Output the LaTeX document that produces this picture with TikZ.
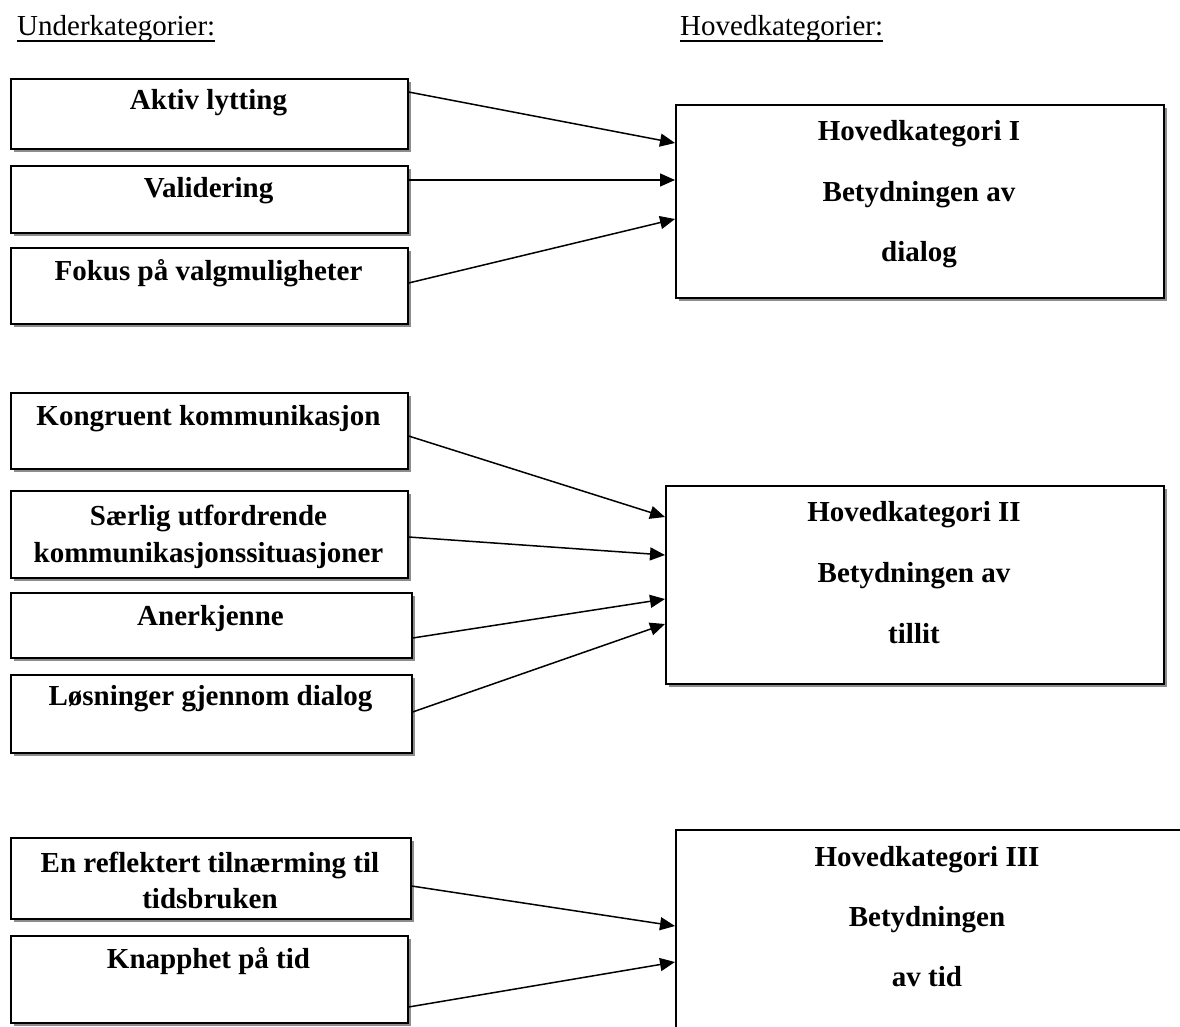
\documentclass[tikz,border=0pt]{standalone}
\usepackage{fontspec}
\setmainfont{Liberation Serif}
\usetikzlibrary{arrows.meta,shadows,calc}
\tikzset{
  box/.style={draw=black, line width=1.6pt, fill=white, inner sep=0pt, anchor=north west,
    drop shadow={shadow xshift=3pt, shadow yshift=-3pt, fill=black!45, opacity=1}},
  lbl/.style={anchor=base, inner sep=0pt, font=\fontsize{29}{35}\selectfont\bfseries},
  head/.style={anchor=base west, inner sep=0pt, font=\fontsize{29}{35}\selectfont},
  uline/.style={line width=1.4pt},
  conn/.style={line width=1.5pt, -{Triangle[length=15pt,width=13pt]}},
}
\begin{document}
\begin{tikzpicture}[x=1pt,y=-1pt]
\useasboundingbox (0,0) rectangle (1180,1027);
\clip (0,0) rectangle (1180,1027);
\fill[white] (0,0) rectangle (1180,1027);

% headings
\node[head] (hu) at (17,36) {Underkategorier:};
\draw[uline] ($(hu.base west)+(0,5)$) -- ($(hu.base east)+(0,5)$);
\node[head] (hh) at (680,36) {Hovedkategorier:};
\draw[uline] ($(hh.base west)+(0,5)$) -- ($(hh.base east)+(0,5)$);

% ---- section I
\node[box, minimum width=397pt, minimum height=70pt] (a1) at (10,78) {};
\node[lbl] (a1t) at (208.5,110) {Aktiv lytting};
\node[box, minimum width=397pt, minimum height=67pt] (a2) at (10,165) {};
\node[lbl] (a2t) at (208.5,198) {Validering};
\node[box, minimum width=397pt, minimum height=76pt] (a3) at (10,247) {};
\node[lbl] (a3t) at (208.5,280) {Fokus på valgmuligheter};

\node[box, minimum width=488pt, minimum height=193pt] (m1) at (675,104) {};
\node[lbl] (m1a) at (919,141) {Hovedkategori I};
\node[lbl] (m1b) at (919,201) {Betydningen av};
\node[lbl] (m1c) at (919,261) {dialog};

\draw[conn] ($(a1.north east)+(0,14)$) -- ($(m1.north west)+(0,39)$);
\draw[conn] ($(a2.north east)+(0,15)$) -- ($(m1.north west)+(0,76)$);
\draw[conn] ($(a3.north east)+(0,36)$) -- ($(m1.north west)+(0,115)$);

% ---- section II
\node[box, minimum width=397pt, minimum height=76pt] (b1) at (10,392) {};
\node[lbl] (b1t) at (208.5,425) {Kongruent kommunikasjon};
\node[box, minimum width=397pt, minimum height=87pt] (b2) at (10,490) {};
\node[lbl] (b2t) at (208.5,525) {Særlig utfordrende};
\node[lbl] (b2u) at (208.5,562) {kommunikasjonssituasjoner};
\node[box, minimum width=401pt, minimum height=65pt] (b3) at (10,592) {};
\node[lbl] (b3t) at (210.5,625) {Anerkjenne};
\node[box, minimum width=401pt, minimum height=78pt] (b4) at (10,674) {};
\node[lbl] (b4t) at (210.5,705) {Løsninger gjennom dialog};

\node[box, minimum width=498pt, minimum height=198pt] (m2) at (665,485) {};
\node[lbl] (m2a) at (914,521) {Hovedkategori II};
\node[lbl] (m2b) at (914,582) {Betydningen av};
\node[lbl] (m2c) at (914,643) {tillit};

\draw[conn] ($(b1.north east)+(0,44)$) -- ($(m2.north west)+(0,32)$);
\draw[conn] ($(b2.north east)+(0,47)$) -- ($(m2.north west)+(0,70)$);
\draw[conn] ($(b3.north east)+(0,46)$) -- ($(m2.north west)+(0,114)$);
\draw[conn] ($(b4.north east)+(0,38)$) -- ($(m2.north west)+(0,139)$);

% ---- section III
\node[box, minimum width=400pt, minimum height=81pt] (c1) at (10,837) {};
\node[lbl] (c1t) at (210,872) {En reflektert tilnærming til};
\node[lbl] (c1u) at (210,908) {tidsbruken};
\node[box, minimum width=397pt, minimum height=87pt] (c2) at (10,935) {};
\node[lbl] (c2t) at (208.5,968) {Knapphet på tid};

\node[box, minimum width=506pt, minimum height=260pt] (m3) at (675,829) {};
\node[lbl] (m3a) at (927,866) {Hovedkategori III};
\node[lbl] (m3b) at (927,926) {Betydningen};
\node[lbl] (m3c) at (927,986) {av tid};

\draw[conn] ($(c1.north east)+(0,49)$) -- ($(m3.north west)+(0,97)$);
\draw[conn] ($(c2.north east)+(0,72)$) -- ($(m3.north west)+(0,133)$);
\end{tikzpicture}
\end{document}
